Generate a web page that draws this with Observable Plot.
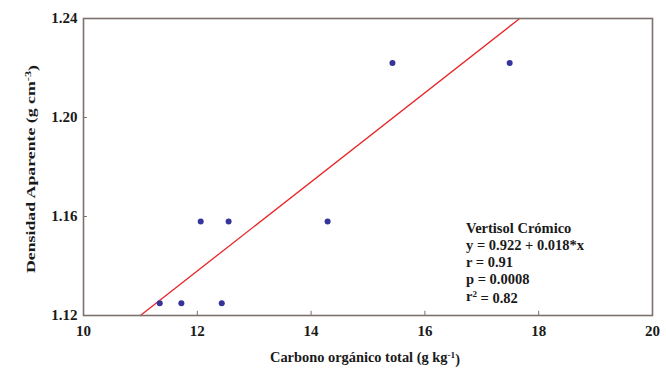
<!DOCTYPE html>
<html><head><meta charset="utf-8">
<script src="https://cdn.jsdelivr.net/npm/d3@7"></script>
<script src="https://cdn.jsdelivr.net/npm/@observablehq/plot@0.6"></script>
<style>body{margin:0;background:#fff} svg text{font-family:"Liberation Serif", serif !important; font-weight:bold !important;}</style>
</head><body><div id="chart"></div>
<script>
const carbono = [11.34, 11.72, 12.43, 12.06, 12.55, 14.29, 15.43, 17.49];
const densidad = [1.125, 1.125, 1.125, 1.158, 1.158, 1.158, 1.222, 1.222];
const xTicks = [10, 12, 14, 16, 18, 20];
const yTicks = [1.12, 1.16, 1.20, 1.24];
const intercept = 0.922, slope = 0.018;
const stats = ["Vertisol Crómico", "y = 0.922 + 0.018*x", "r = 0.91", "p = 0.0008"];

const pts = carbono.map((x, i) => ({x, y: densidad[i]}));
const lineX = [(1.12 - intercept) / slope, (1.24 - intercept) / slope];
const fit = lineX.map(x => ({x, y: intercept + slope * x}));

const plot = Plot.plot({
  width: 666, height: 369,
  marginLeft: 83, marginRight: 14, marginTop: 18, marginBottom: 54,
  style: {fontFamily: "Liberation Serif", fontSize: "15px", fontWeight: "bold", color: "#1a1a1a"},
  x: {domain: [10, 20], ticks: xTicks, label: null},
  y: {domain: [1.12, 1.24], ticks: yTicks, label: null},
  marks: [
    Plot.axisX({ticks: xTicks, tickSize: 0, tickPadding: 10, tickFormat: d3.format("d"), fontWeight: "bold"}),
    Plot.axisY({ticks: yTicks, tickSize: 0, tickPadding: 6, tickFormat: d3.format(".2f"), fontWeight: "bold"}),
    Plot.ruleX(xTicks.slice(1, -1), {y1: 1.12, y2: 1.1217, stroke: "#7d716d"}),
    Plot.ruleY(yTicks.slice(1, -1), {x1: 10, x2: 10.07, stroke: "#7d716d"}),
    Plot.line(fit, {x: "x", y: "y", stroke: "#e8262a", strokeWidth: 1.3}),
    Plot.dot(pts, {x: "x", y: "y", r: 3, fill: "#35349a", stroke: "none"}),
    Plot.frame({stroke: "#7d716d", strokeWidth: 1.6})
  ]
});
document.getElementById("chart").appendChild(plot);

const svg = d3.select(plot);
function addText(x, y, parts, opts = {}) {
  const t = svg.append("text")
    .attr("font-size", (opts.size || 14) + "px").attr("font-weight", "bold")
    .attr("fill", "#1a1a1a").attr("text-anchor", opts.anchor || "start");
  if (opts.rotate) t.attr("transform", `translate(${x},${y}) rotate(-90)`);
  else t.attr("x", x).attr("y", y);
  if (opts.len) t.attr("textLength", opts.len).attr("lengthAdjust", "spacingAndGlyphs");
  parts.forEach(p => {
    const s = t.append("tspan").text(p.t);
    if (p.sup) s.attr("dy", "-0.45em").attr("font-size", "9px");
    if (p.back) s.attr("dy", "0.45em");
  });
  return t;
}
addText(365, 362, [{t: "Carbono orgánico total (g kg"}, {t: "-1", sup: true}, {t: ")", back: true}], {anchor: "middle", len: 190});
addText(35, 169, [{t: "Densidad Aparente (g cm"}, {t: "-3", sup: true}, {t: ")", back: true}], {anchor: "middle", rotate: true, len: 208, size: 13});
stats.forEach((s, i) => addText(466, 233 + i * 17, [{t: s}], {size: 14.5}));
addText(466, 233 + 4 * 17, [{t: "r"}, {t: "2", sup: true}, {t: " = 0.82", back: true}], {size: 14.5});
</script></body></html>
